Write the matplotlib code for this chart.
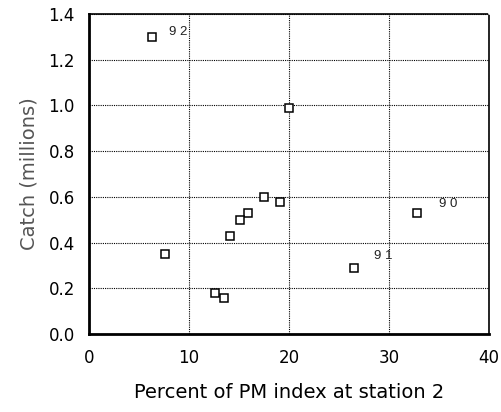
import matplotlib
matplotlib.use("Agg")
import matplotlib.pyplot as plt

plt.rcParams['font.family'] = ['DejaVu Sans']

# percent of PM index at station 2 vs catch (millions)
pct = [6.3, 20.0, 17.5, 19.1, 15.9, 15.1, 14.1, 7.6, 32.8, 26.5, 12.6, 13.5]
catch = [1.30, 0.99, 0.60, 0.58, 0.53, 0.50, 0.43, 0.35, 0.53, 0.29, 0.18, 0.16]

# year labels
labels = ["9 2", "9 0", "9 1"]
label_x = [8.9, 35.9, 29.4]
label_y = [1.32, 0.57, 0.34]

xticks = [0, 10, 20, 30, 40]
yticks = [0.0, 0.2, 0.4, 0.6, 0.8, 1.0, 1.2, 1.4]

fig = plt.figure(figsize=(5.02, 4.12), dpi=100)
ax = fig.add_axes([0.177, 0.189, 0.797, 0.777])

ax.plot(pct, catch, linestyle='none', marker='s', markersize=6.0,
        markerfacecolor='white', markeredgecolor='black', markeredgewidth=1.1,
        zorder=3)

for t, x, y in zip(labels, label_x, label_y):
    ax.text(x, y, t, fontsize=9.5, ha='center', va='center', color='#222222',
            family='Liberation Sans')

ax.set_xlim(0, 40)
ax.set_ylim(0, 1.4)
ax.set_xticks(xticks)
ax.set_yticks(yticks)
ax.set_xticklabels([str(v) for v in xticks], fontsize=12)
ax.set_yticklabels(["%.1f" % v for v in yticks], fontsize=12)
ax.tick_params(axis='x', length=0, pad=11)
ax.tick_params(axis='y', length=0, pad=10)

ax.grid(True, color='black', linestyle=(0, (1, 1)), linewidth=0.8)
ax.set_axisbelow(True)

ax.spines['left'].set_linewidth(2)
ax.spines['bottom'].set_linewidth(2)
for s in ['top', 'right']:
    ax.spines[s].set_linewidth(1.2)
    ax.spines[s].set_linestyle((0, (1, 1)))

ax.set_xlabel("Percent of PM index at station 2", fontsize=14, labelpad=11)
ax.set_ylabel("Catch (millions)", fontsize=14, color='#555555', labelpad=7)

fig.savefig("out.png", dpi=100)
